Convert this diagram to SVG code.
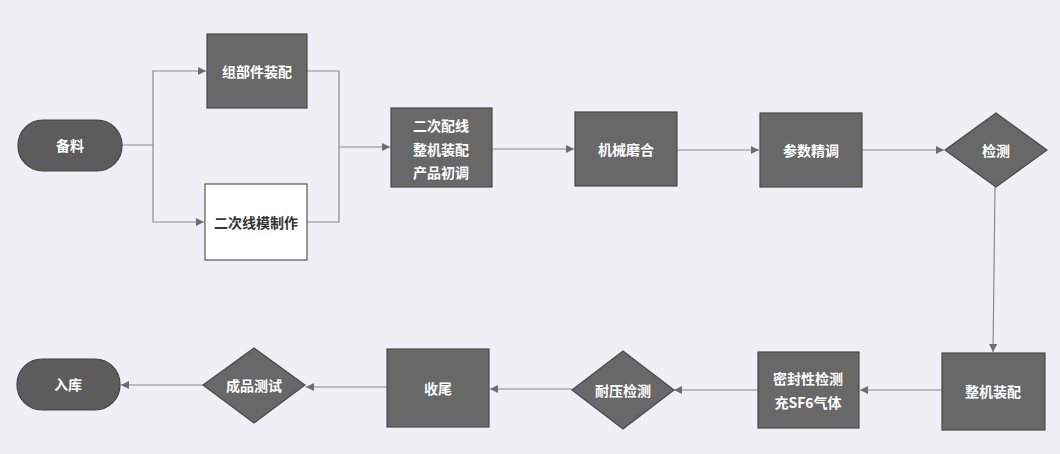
<svg xmlns="http://www.w3.org/2000/svg" width="1060" height="454" viewBox="0 0 1060 454">
<defs>
<style>
.n{fill:#686868;stroke:#4a4a4a;stroke-width:1.2}
.p{fill:#5c5c5c;stroke:#444;stroke-width:1.2}
.w{fill:#ffffff;stroke:#555;stroke-width:1.2}
.t{font-family:"Noto Sans CJK SC","Noto Sans",sans-serif;font-size:14px;font-weight:bold;fill:#ffffff;text-anchor:middle;dominant-baseline:central}
.d{fill:#333333}
.c{fill:none;stroke:#8a8a8a;stroke-width:1.2}
</style>
<marker id="ah" viewBox="0 0 10 10" refX="10" refY="5" markerWidth="8" markerHeight="8" markerUnits="userSpaceOnUse" orient="auto">
<path d="M0,0 L10,5 L0,10 Z" fill="#6e6e6e"/>
</marker>
</defs>
<rect width="1060" height="454" fill="#eef0f5"/>
<g id="connectors">
<path class="c" d="M122,145 H153 V71 H206" marker-end="url(#ah)"/>
<path class="c" d="M153,145 V222 H204" marker-end="url(#ah)"/>
<path class="c" d="M307,71 H339 V222 H307"/>
<path class="c" d="M339,147 H390" marker-end="url(#ah)"/>
<path class="c" d="M492,149 H574" marker-end="url(#ah)"/>
<path class="c" d="M677,150 H759" marker-end="url(#ah)"/>
<path class="c" d="M862,150 H944" marker-end="url(#ah)"/>
<path class="c" d="M995,187 L993,352" marker-end="url(#ah)"/>
<path class="c" d="M942,390 H860" marker-end="url(#ah)"/>
<path class="c" d="M758,390 H674" marker-end="url(#ah)"/>
<path class="c" d="M572,389 H490" marker-end="url(#ah)"/>
<path class="c" d="M387,387 H306" marker-end="url(#ah)"/>
<path class="c" d="M203,385 H121" marker-end="url(#ah)"/>
</g>
<g id="n1"><rect class="p" x="18" y="120" width="104" height="51" rx="25"/><text class="t" x="70" y="145">备料</text></g>
<g id="n2"><rect class="n" x="207" y="34" width="100" height="74"/><text class="t" x="257" y="71">组部件装配</text></g>
<g id="n3"><rect class="w" x="205" y="184" width="102" height="76"/><text class="t d" x="256" y="222">二次线模制作</text></g>
<g id="n4"><rect class="n" x="391" y="108" width="101" height="79"/><text class="t" x="441" y="125">二次配线</text><text class="t" x="441" y="149">整机装配</text><text class="t" x="441" y="172">产品初调</text></g>
<g id="n5"><rect class="n" x="575" y="112" width="102" height="74"/><text class="t" x="626" y="149">机械磨合</text></g>
<g id="n6"><rect class="n" x="760" y="113" width="102" height="74"/><text class="t" x="811" y="150">参数精调</text></g>
<g id="n7"><polygon class="n" points="945,150 996,113 1047,150 996,187"/><text class="t" x="996" y="150">检测</text></g>
<g id="n8"><rect class="n" x="942" y="353" width="103" height="77"/><text class="t" x="993" y="391">整机装配</text></g>
<g id="n9"><rect class="n" x="758" y="352" width="101" height="76"/><text class="t" x="808" y="378">密封性检测</text><text class="t" x="808" y="402">充SF6气体</text></g>
<g id="n10"><polygon class="n" points="572,390 623,351 674,390 623,429"/><text class="t" x="623" y="390">耐压检测</text></g>
<g id="n11"><rect class="n" x="387" y="349" width="102" height="78"/><text class="t" x="438" y="388">收尾</text></g>
<g id="n12"><polygon class="n" points="203,385 254,348 305,385 254,423"/><text class="t" x="254" y="385">成品测试</text></g>
<g id="n13"><rect class="p" x="17" y="359" width="103" height="51" rx="25"/><text class="t" x="68" y="384">入库</text></g>
</svg>
